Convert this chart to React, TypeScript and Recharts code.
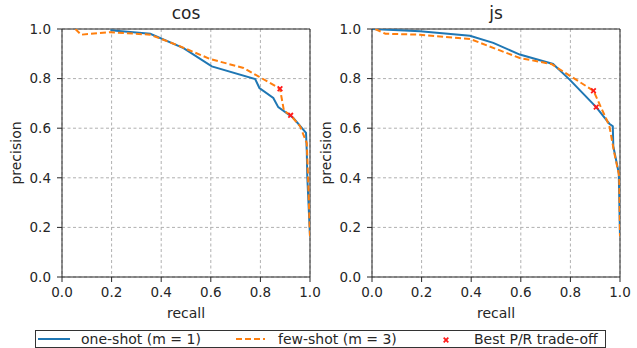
import {
  ComposedChart,
  Line,
  Scatter,
  XAxis,
  YAxis,
  CartesianGrid,
  ReferenceLine,
} from "recharts";

interface Pt {
  x: number;
  y: number;
}

const ticks = [0, 0.2, 0.4, 0.6, 0.8, 1.0];

const cosOneShot: Pt[] = [
  { x: 0.195, y: 0.995 },
  { x: 0.356, y: 0.981 },
  { x: 0.49, y: 0.923 },
  { x: 0.604, y: 0.849 },
  { x: 0.779, y: 0.798 },
  { x: 0.796, y: 0.762 },
  { x: 0.852, y: 0.722 },
  { x: 0.872, y: 0.685 },
  { x: 0.933, y: 0.641 },
  { x: 0.984, y: 0.581 },
  { x: 0.987, y: 0.507 },
  { x: 0.989, y: 0.406 },
  { x: 1.0, y: 0.164 },
];

const cosFewShot: Pt[] = [
  { x: 0.054, y: 1.0 },
  { x: 0.077, y: 0.977 },
  { x: 0.195, y: 0.987 },
  { x: 0.356, y: 0.977 },
  { x: 0.477, y: 0.93 },
  { x: 0.597, y: 0.879 },
  { x: 0.732, y: 0.843 },
  { x: 0.792, y: 0.809 },
  { x: 0.879, y: 0.759 },
  { x: 0.895, y: 0.67 },
  { x: 0.922, y: 0.652 },
  { x: 0.96, y: 0.608 },
  { x: 0.987, y: 0.54 },
  { x: 0.993, y: 0.379 },
  { x: 1.0, y: 0.164 },
];

const cosBest: Pt[] = [
  { x: 0.879, y: 0.759 },
  { x: 0.922, y: 0.652 },
];

const jsOneShot: Pt[] = [
  { x: 0.0, y: 1.0 },
  { x: 0.194, y: 0.991 },
  { x: 0.395, y: 0.973 },
  { x: 0.489, y: 0.944 },
  { x: 0.596, y: 0.897 },
  { x: 0.73, y: 0.859 },
  { x: 0.797, y: 0.796 },
  { x: 0.904, y: 0.685 },
  { x: 0.957, y: 0.618 },
  { x: 0.971, y: 0.608 },
  { x: 0.973, y: 0.527 },
  { x: 0.995, y: 0.419 },
  { x: 1.0, y: 0.164 },
];

const jsFewShot: Pt[] = [
  { x: 0.013, y: 1.0 },
  { x: 0.054, y: 0.981 },
  { x: 0.194, y: 0.977 },
  { x: 0.395, y: 0.96 },
  { x: 0.596, y: 0.883 },
  { x: 0.723, y: 0.859 },
  { x: 0.797, y: 0.812 },
  { x: 0.893, y: 0.751 },
  { x: 0.957, y: 0.61 },
  { x: 0.977, y: 0.5 },
  { x: 0.997, y: 0.406 },
  { x: 1.0, y: 0.164 },
];

const jsBest: Pt[] = [
  { x: 0.893, y: 0.751 },
  { x: 0.904, y: 0.685 },
];

const FONT = "'DejaVu Sans', sans-serif";
const INK = "#262626";

const XMark = (props: any) => {
  const { cx, cy } = props;
  const s = 2.3;
  return (
    <g stroke="#ff1a1a" strokeWidth={1.8}>
      <line x1={cx - s} y1={cy - s} x2={cx + s} y2={cy + s} />
      <line x1={cx - s} y1={cy + s} x2={cx + s} y2={cy - s} />
    </g>
  );
};

function Panel({
  one,
  few,
  best,
}: {
  one: Pt[];
  few: Pt[];
  best: Pt[];
}) {
  const tickStyle = { fontSize: 13.5, fill: INK, fontFamily: FONT };
  return (
    <ComposedChart
      width={330}
      height={320}
      margin={{ top: 29, right: 20, left: 22, bottom: 13 }}
    >
      <CartesianGrid
        strokeDasharray="3 2.5"
        stroke="#b0b0b0"
        horizontalValues={ticks}
        verticalValues={ticks}
      />
      <XAxis
        type="number"
        dataKey="x"
        domain={[0, 1]}
        ticks={ticks}
        tickFormatter={(v: number) => v.toFixed(1)}
        allowDataOverflow
        height={30}
        tickSize={5}
        tickMargin={5}
        stroke={INK}
        tick={tickStyle}
      />
      <YAxis
        type="number"
        dataKey="y"
        domain={[0, 1]}
        ticks={ticks}
        tickFormatter={(v: number) => v.toFixed(1)}
        allowDataOverflow
        width={40}
        tickSize={5}
        tickMargin={6}
        stroke={INK}
        tick={tickStyle}
      />
      <ReferenceLine x={1} stroke={INK} />
      <ReferenceLine y={1} stroke={INK} />
      <Line
        data={one}
        dataKey="y"
        type="linear"
        stroke="#1f77b4"
        strokeWidth={2}
        dot={false}
        isAnimationActive={false}
      />
      <Line
        data={few}
        dataKey="y"
        type="linear"
        stroke="#ff7f0e"
        strokeWidth={2}
        strokeDasharray="6 3"
        dot={false}
        isAnimationActive={false}
      />
      <Scatter
        data={best}
        dataKey="y"
        shape={XMark}
        isAnimationActive={false}
      />
    </ComposedChart>
  );
}

const abs = (s: React.CSSProperties): React.CSSProperties => ({
  position: "absolute",
  fontFamily: FONT,
  color: INK,
  whiteSpace: "nowrap",
  ...s,
});

export default function App() {
  return (
    <div
      style={{
        position: "absolute",
        left: 0,
        top: 0,
        width: 637,
        height: 348,
        background: "#fff",
        overflow: "hidden",
      }}
    >
      <div style={abs({ left: 0, top: 0 })}>
        <Panel one={cosOneShot} few={cosFewShot} best={cosBest} />
      </div>
      <div style={abs({ left: 310, top: 0 })}>
        <Panel one={jsOneShot} few={jsFewShot} best={jsBest} />
      </div>

      <div style={abs({ left: 136, width: 100, top: 3, textAlign: "center", fontSize: 17 })}>
        cos
      </div>
      <div style={abs({ left: 446, width: 100, top: 3, textAlign: "center", fontSize: 17 })}>
        js
      </div>

      <div style={abs({ left: 136, width: 100, top: 305, textAlign: "center", fontSize: 14 })}>
        recall
      </div>
      <div style={abs({ left: 446, width: 100, top: 305, textAlign: "center", fontSize: 14 })}>
        recall
      </div>

      <div
        style={abs({
          left: 16,
          top: 153,
          fontSize: 14,
          transform: "translate(-50%, -50%) rotate(-90deg)",
        })}
      >
        precision
      </div>
      <div
        style={abs({
          left: 326,
          top: 153,
          fontSize: 14,
          transform: "translate(-50%, -50%) rotate(-90deg)",
        })}
      >
        precision
      </div>

      <div
        style={abs({
          left: 35,
          top: 330,
          width: 569,
          height: 16,
          border: "1px solid #333",
          fontSize: 14,
          lineHeight: "16px",
        })}
      >
        <svg style={{ position: "absolute", left: 0, top: 0 }} width={569} height={16}>
          <line x1={2} y1={8} x2={34} y2={8} stroke="#1f77b4" strokeWidth={2} />
          <line
            x1={200}
            y1={8}
            x2={229}
            y2={8}
            stroke="#ff7f0e"
            strokeWidth={2}
            strokeDasharray="6 3"
          />
          <XMark cx={410} cy={9} />
        </svg>
        <span style={{ position: "absolute", left: 45 }}>one-shot (m = 1)</span>
        <span style={{ position: "absolute", left: 242 }}>few-shot (m = 3)</span>
        <span style={{ position: "absolute", left: 438 }}>Best P/R trade-off</span>
      </div>
    </div>
  );
}
